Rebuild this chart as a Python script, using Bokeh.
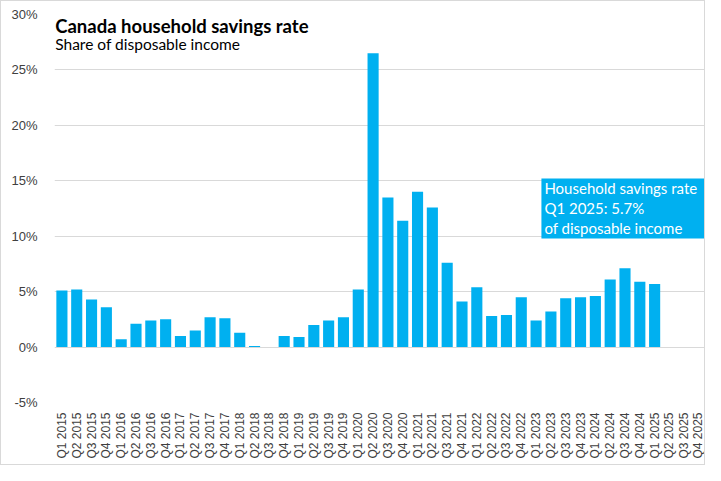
import math
from bokeh.plotting import figure
from bokeh.models import ColumnDataSource, FactorRange, FixedTicker, PrintfTickFormatter, Label, BoxAnnotation
from bokeh.embed import file_html
from bokeh.resources import INLINE

quarters = [f"Q{q} {y}" for y in range(2015, 2026) for q in range(1, 5)]
savings_rate = [5.1, 5.2, 4.3, 3.6, 0.7, 2.1, 2.4, 2.5,
                1.0, 1.5, 2.7, 2.6, 1.3, 0.1, 0.0, 1.0,
                0.9, 2.0, 2.4, 2.7, 5.2, 26.5, 13.5, 11.4,
                14.0, 12.6, 7.6, 4.1, 5.4, 2.8, 2.9, 4.5,
                2.4, 3.2, 4.4, 4.5, 4.6, 6.1, 7.1, 5.9,
                5.7]
y_ticks = [-5, 0, 5, 10, 15, 20, 25, 30]

title_text = "Canada household savings rate"
subtitle_text = "Share of disposable income"
note_lines = ["Household savings rate", "Q1 2025:  5.7%", "of disposable income"]

BLUE = "#00B0F0"

src = ColumnDataSource(dict(q=quarters[:len(savings_rate)], v=savings_rate))

p = figure(x_range=FactorRange(*quarters), y_range=(-5, 30),
           width=705, height=465, output_backend="svg", toolbar_location=None,
           min_border_left=53, min_border_right=0, min_border_top=13, min_border_bottom=64)
p.styles = {"border": "1px solid #d9d9d9"}
p.outline_line_color = None
p.background_fill_color = "white"
p.border_fill_color = "white"

p.vbar(x="q", top="v", width=0.75, source=src, color=BLUE, line_color=None)

p.xgrid.grid_line_color = None
p.ygrid.grid_line_color = "#d9d9d9"
p.ygrid.grid_line_width = 1
p.ygrid.ticker = FixedTicker(ticks=y_ticks)

p.yaxis.ticker = FixedTicker(ticks=y_ticks)
p.yaxis.formatter = PrintfTickFormatter(format="%d%%")
p.yaxis.axis_line_color = None
p.yaxis.major_tick_line_color = None
p.yaxis.minor_tick_line_color = None
p.yaxis.major_label_standoff = 11
p.yaxis.major_label_text_font = "Liberation Sans"
p.yaxis.major_label_text_font_size = "13px"
p.yaxis.major_label_text_color = "#404040"

p.xaxis.axis_line_color = None
p.xaxis.major_tick_line_color = None
p.xaxis.major_label_orientation = math.pi / 2
p.xaxis.major_label_standoff = 4
p.xaxis.major_label_text_font = "Liberation Sans"
p.xaxis.major_label_text_font_size = "12px"
p.xaxis.major_label_text_color = "#404040"

p.add_layout(Label(x=0.05, y=29.0, text=title_text, text_font="Lato", text_font_style="bold",
                   text_font_size="18.5px", text_baseline="middle", text_color="#000000"))
p.add_layout(Label(x=0.05, y=27.3, text=subtitle_text, text_font="Lato",
                   text_font_size="15.5px", text_baseline="middle", text_color="#000000"))

p.add_layout(BoxAnnotation(left=32.86, right=44, bottom=9.8, top=15.2,
                           fill_color=BLUE, fill_alpha=1.0, line_color=None))
for yv, t in zip([14.32, 12.52, 10.72], note_lines):
    p.add_layout(Label(x=33.06, y=yv, text=t, text_font="Lato", text_font_size="15px",
                       text_baseline="middle", text_color="white"))

open("out.html", "w").write(file_html(p, INLINE))
